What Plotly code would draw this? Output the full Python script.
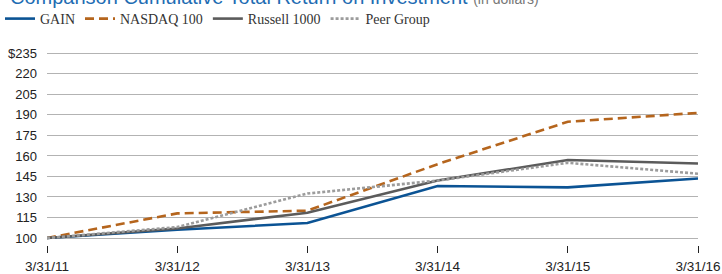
import plotly.graph_objects as go

dates = ["3/31/11", "3/31/12", "3/31/13", "3/31/14", "3/31/15", "3/31/16"]
gain = [100, 106, 111, 138, 137, 143.5]
nasdaq = [100, 118, 120, 154, 185, 191.5]
russell = [100, 107, 118.5, 142, 157, 154.5]
peer = [100, 108, 132.5, 142, 155, 147]
y_ticks = [100, 115, 130, 145, 160, 175, 190, 205, 220, 235]
y_labels = ["100", "115", "130", "145", "160", "175", "190", "205", "220", "$235"]

series = [
    ("GAIN", gain, "#0b5394", "solid", 2.6),
    ("NASDAQ 100", nasdaq, "#b5651d", "9px,5px", 2.6),
    ("Russell 1000", russell, "#5b5b5b", "solid", 2.6),
    ("Peer Group", peer, "#9c9c9c", "3px,2px", 2.6),
]

x_idx = list(range(len(dates)))
fig = go.Figure()
for name, vals, col, dash, w in series:
    fig.add_trace(go.Scatter(x=x_idx, y=vals, mode="lines", name=name,
                             line=dict(color=col, dash=dash, width=w)))

fig.update_layout(
    width=722, height=274,
    margin=dict(l=47, r=24, t=51.6, b=29, autoexpand=False),
    paper_bgcolor="white", plot_bgcolor="white",
    font=dict(family="Liberation Sans, Arial, sans-serif", size=13, color="#222"),
    showlegend=True,
    legend=dict(orientation="h", x=-4 / 722, xref="container", y=1 - 3 / 274, yref="container",
                xanchor="left", yanchor="top",
                font=dict(family="Liberation Serif, Times New Roman, serif", size=14, color="#333"),
                itemwidth=30, tracegroupgap=0, bgcolor="rgba(0,0,0,0)"),
    xaxis=dict(range=[0, 5], tickvals=x_idx, ticktext=dates, showgrid=False,
               zeroline=False, showline=False, ticks="outside", ticklen=7,
               tickcolor="#222", tickwidth=1, automargin=False, ticklabelstandoff=2,
               tickfont=dict(size=13.5, color="#222")),
    yaxis=dict(range=[94.9, 236], tickvals=y_ticks, ticktext=y_labels, showgrid=True,
               gridcolor="#b3b3b3", gridwidth=1, zeroline=False, showline=False,
               ticks="", ticklabelstandoff=9, automargin=False,
               tickfont=dict(size=13, color="#222")),
)

fig.add_annotation(
    xref="paper", yref="paper", x=(8 - 47) / 651, y=1.2151, xanchor="left", yanchor="bottom",
    showarrow=False,
    text="Comparison Cumulative Total Return on Investment <span style='font-size:14px;color:#777777'>(in dollars)</span>",
    font=dict(family="Liberation Sans, Arial, sans-serif", size=20, color="#1f6db3"),
)

fig.write_html("out.html", config={"displayModeBar": False},
               post_script="document.body.style.margin='0';document.body.style.overflow='hidden';")
